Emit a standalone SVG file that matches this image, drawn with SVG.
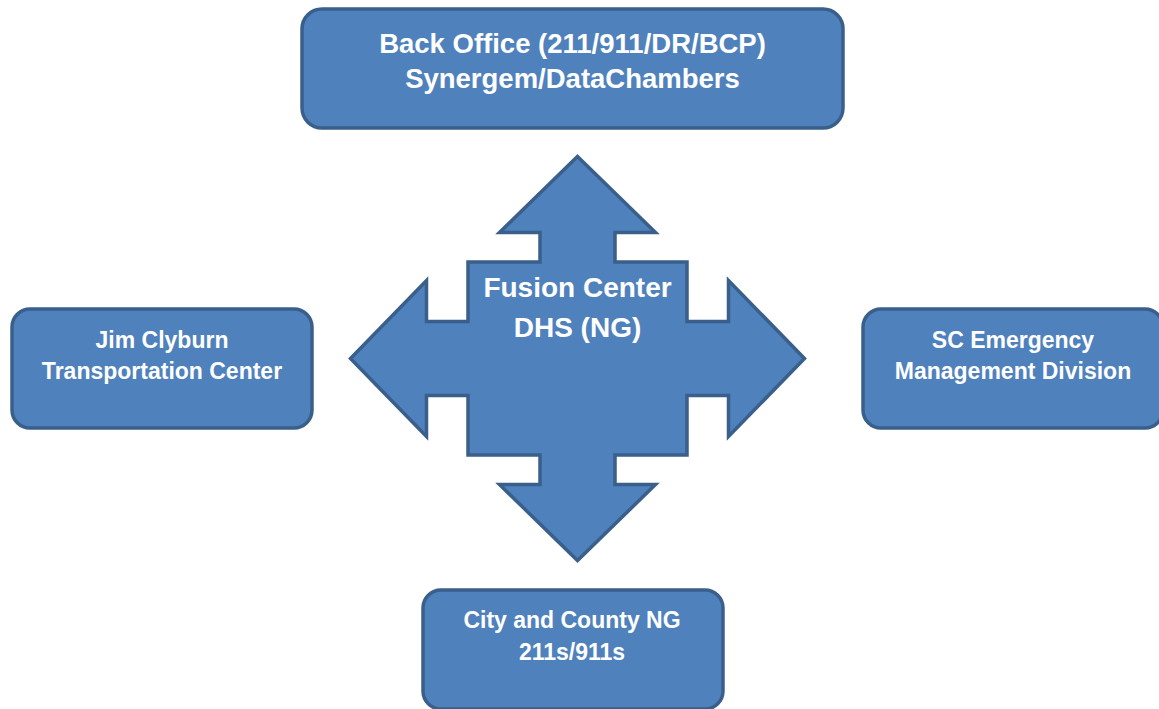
<svg xmlns="http://www.w3.org/2000/svg" width="1159" height="709" viewBox="0 0 1159 709">
<style>
.box{fill:#4f81bd;stroke:#3a5f8b;stroke-width:3.5}
.t{font-family:"Liberation Sans",Arial,sans-serif;font-weight:bold;fill:#ffffff;text-anchor:middle}
.s27{font-size:27.5px}
.s28{font-size:28px}
.s22{font-size:23px}
</style>
<rect width="1159" height="709" fill="#ffffff"/>
<g id="connectors"/>
<g id="fusion-center">
<path class="box" d="M577.5,156.5 L655.5,232.5 L615,232.5 L615,262 L687,262 L687,321.5 L728.5,321.5 L728.5,280.5 L804.5,358.5 L728.5,436.5 L728.5,395.5 L687,395.5 L687,455 L615,455 L615,484.5 L655.5,484.5 L577.5,560.5 L499.5,484.5 L540,484.5 L540,455 L468,455 L468,395.5 L426.5,395.5 L426.5,436.5 L350.5,358.5 L426.5,280.5 L426.5,321.5 L468,321.5 L468,262 L540,262 L540,232.5 L499.5,232.5 Z"/>
<text class="t s28" x="577.5" y="297">Fusion Center</text>
<text class="t s28" x="577.5" y="337">DHS (NG)</text>
</g>
<g id="back-office">
<rect class="box" x="302" y="9" width="541" height="119" rx="20"/>
<text class="t s27" x="572.5" y="53">Back Office (211/911/DR/BCP)</text>
<text class="t s27" x="572.5" y="88">Synergem/DataChambers</text>
</g>
<g id="jim-clyburn">
<rect class="box" x="12" y="309" width="300" height="119" rx="18"/>
<text class="t s22" x="162" y="348">Jim Clyburn</text>
<text class="t s22" x="162" y="379">Transportation Center</text>
</g>
<g id="sc-emergency">
<rect class="box" x="863" y="309" width="300" height="119" rx="18"/>
<text class="t s22" x="1013" y="348">SC Emergency</text>
<text class="t s22" x="1013" y="379">Management Division</text>
</g>
<g id="city-county">
<rect class="box" x="423" y="590" width="300" height="119" rx="18"/>
<text class="t s22" x="572" y="628">City and County NG</text>
<text class="t s22" x="572" y="660">211s/911s</text>
</g>
</svg>
